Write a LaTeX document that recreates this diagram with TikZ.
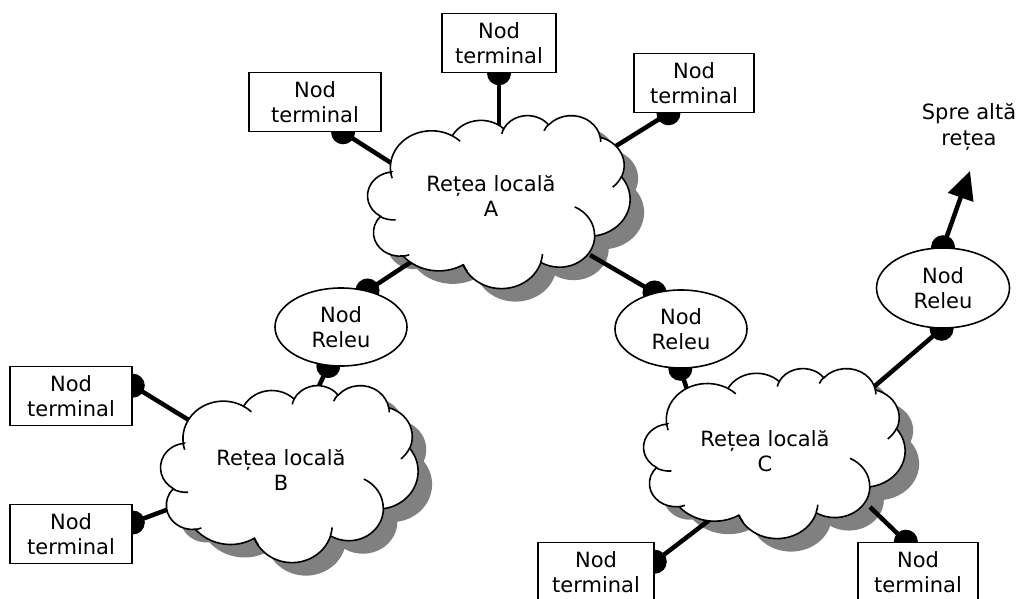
\documentclass[tikz,border=0pt]{standalone}
\usepackage{fontspec}
\setmainfont{DejaVu Sans}
\usetikzlibrary{arrows.meta,calc,shapes.geometric}

\definecolor{shadegray}{RGB}{128,128,128}

\pgfdeclarelayer{shadows}
\pgfdeclarelayer{wires}
\pgfdeclarelayer{clouds}
\pgfsetlayers{shadows,wires,clouds,main}

% elliptic arc given by radii, visual start angle and visual sweep
\newcommand\cldarc[4]{arc[x radius=#1, y radius=#2,
  start angle={atan2(#1*sin(#3),#2*cos(#3))},
  delta angle={mod(atan2(#1*sin(#3+#4),#2*cos(#3+#4))-atan2(#1*sin(#3),#2*cos(#3))+720,360)}]}

% cloud outline in a 432 x 432 box (y pointing down)
\newcommand\cloudoutline{(39.00,143.70)
  \cldarc{67.53}{91.90}{-190.4875}{123.7805}
  \cldarc{53.33}{72.67}{-144.1024}{89.9452}
  \cldarc{43.65}{59.45}{-145.8079}{99.7230}
  \cldarc{48.57}{65.95}{-130.9861}{117.2417}
  \cldarc{53.33}{72.73}{-78.7089}{109.0269}
  \cldarc{67.75}{92.20}{-46.2673}{130.2690}
  \cldarc{57.85}{78.67}{0.6250}{114.0333}
  \cldarc{67.52}{92.15}{22.4654}{130.0803}
  \cldarc{77.20}{105.43}{66.2426}{64.5}
  \cldarc{43.60}{59.18}{-274.9421}{146.7356}
  \cldarc{43.45}{59.45}{-246.8285}{152.5189}
  -- cycle}

% short inner strokes of the puffs
\newcommand\cloudinner{
  (46.93,261.77) \cldarc{43.45}{59.45}{86.742}{26.430}
  (69.28,348.99) \cldarc{43.60}{59.18}{73.610}{11.447}
  (164.78,390.90) \cldarc{67.52}{92.15}{137.624}{14.081}
  (288.27,347.51) \cldarc{67.52}{92.15}{6.453}{15.998}
  (341.29,229.54) \cldarc{57.85}{78.67}{-70.292}{70.917}
  (417.98,153.54) \cldarc{53.33}{72.73}{30.318}{27.752}
  (383.24,54.26) \cldarc{48.57}{65.95}{-13.744}{14.859}
  (290.78,39.52) \cldarc{48.57}{65.95}{-149.181}{18.195}
  (221.41,47.20) \cldarc{43.65}{59.45}{-163.494}{17.686}
  (140.00,51.92) \cldarc{67.53}{91.90}{-66.707}{12.319}
  (41.27,157.89) \cldarc{67.53}{91.90}{157.654}{11.858}}

% #1,#2 top-left corner, #3 width, #4 height
\newcommand\cloudshadow[4]{%
  \begin{scope}[shift={(#1+14,#2+13)}, x={#3pt/432}, y={-#4pt/432}]
    \fill[shadegray] \cloudoutline;
  \end{scope}}
\newcommand\cloudbody[4]{%
  \begin{scope}[shift={(#1,#2)}, x={#3pt/432}, y={-#4pt/432}]
    \filldraw[fill=white, line width=1.6pt] \cloudoutline;
    \draw[line width=1.6pt] \cloudinner;
  \end{scope}}

\begin{document}
\begin{tikzpicture}[x=1pt, y=-1pt,
  every node/.style={font=\fontsize{21}{25.5}\selectfont, align=center, inner sep=0pt},
  termbox/.style={draw, line width=1.6pt, fill=white, minimum height=59pt},
  relay/.style={ellipse, draw, line width=1.6pt, fill=white,
                minimum width=132pt, minimum height=78pt},
  wire/.style={line width=4.5pt},
  joint/.style={fill=black}]

\useasboundingbox (0,0) rectangle (1019,599);

% terminal nodes
\node[termbox, minimum width=132pt] (b1) at (315,102) {Nod\\terminal};
\node[termbox, minimum width=114pt] (b2) at (499,43)  {Nod\\terminal};
\node[termbox, minimum width=120pt] (b3) at (694,83)  {Nod\\terminal};
\node[termbox, minimum width=122pt] (b4) at (71,396)  {Nod\\terminal};
\node[termbox, minimum width=122pt] (b5) at (71,534)  {Nod\\terminal};
\node[termbox, minimum width=116pt] (b6) at (596,572) {Nod\\terminal};
\node[termbox, minimum width=120pt] (b7) at (918,572) {Nod\\terminal};

% relay nodes
\node[relay] (r1) at (341,327) {Nod\\Releu};
\node[relay] (r2) at (681,329) {Nod\\Releu};
\node[relay, minimum width=133pt, minimum height=80pt] (r3) at (943,288) {Nod\\Releu};

% network labels
\node (cA) at (491,196) {Rețea locală\\A};
\node (cB) at (281,470) {Rețea locală\\B};
\node (cC) at (765,451) {Rețea locală\\C};
\node (ext) at (969,127) {Spre altă\\rețea};

% attachment points on the nodes
\coordinate (d1) at ($(b1.south west)!0.71!(b1.south east)$);
\coordinate (d2) at (b2.south);
\coordinate (d3) at ($(b3.south west)!0.29!(b3.south east)$);
\coordinate (d4) at ($(b4.north east)!0.33!(b4.south east)$);
\coordinate (d5) at ($(b5.north east)!0.31!(b5.south east)$);
\coordinate (d6) at ($(b6.north east)!0.33!(b6.south east)$);
\coordinate (d7) at ($(b7.north west)!0.40!(b7.north east)$);
\coordinate (q1) at (r1.54);
\coordinate (q2) at (r1.252);
\coordinate (q3) at (r2.126);
\coordinate (q4) at (r2.269);
\coordinate (q5) at (r3.90);
\coordinate (q6) at (r3.268);

% wire ends hidden inside the clouds
\coordinate (eA1) at (410,175);
\coordinate (eA2) at (499,140);
\coordinate (eA3) at (600,156);
\coordinate (eA4) at (420,256);
\coordinate (eA5) at (590,255);
\coordinate (eB1) at (205,430);
\coordinate (eB2) at (185,503);
\coordinate (eB3) at (310,405);
\coordinate (eC1) at (692,405);
\coordinate (eC2) at (862,397);
\coordinate (eC3) at (712,518);
\coordinate (eC4) at (870,507);
\coordinate (tip) at (970,171);

\begin{pgfonlayer}{shadows}
  \cloudshadow{367}{115}{263}{173}
  \cloudshadow{160}{385}{258}{177}
  \cloudshadow{643}{368}{262}{170}
\end{pgfonlayer}

\begin{pgfonlayer}{wires}
  \draw[wire] (d1) -- (eA1);
  \draw[wire] (d2) -- (eA2);
  \draw[wire] (d3) -- (eA3);
  \draw[wire] (q1) -- (eA4);
  \draw[wire] (q3) -- (eA5);
  \draw[wire] (d4) -- (eB1);
  \draw[wire] (d5) -- (eB2);
  \draw[wire] (q2) -- (eB3);
  \draw[wire] (q4) -- (eC1);
  \draw[wire] (q6) -- (eC2);
  \draw[wire] (d6) -- (eC3);
  \draw[wire] (d7) -- (eC4);
  \draw[wire, -{Triangle[length=28pt, width=26pt]}] (q5) -- (tip);
  \foreach \p in {d1,d2,d3,d4,d5,d6,d7,q1,q2,q3,q4,q5,q6}
    \fill[joint] (\p) circle[radius=12pt];
\end{pgfonlayer}

\begin{pgfonlayer}{clouds}
  \cloudbody{367}{115}{263}{173}
  \cloudbody{160}{385}{258}{177}
  \cloudbody{643}{368}{262}{170}
\end{pgfonlayer}

\end{tikzpicture}
\end{document}
